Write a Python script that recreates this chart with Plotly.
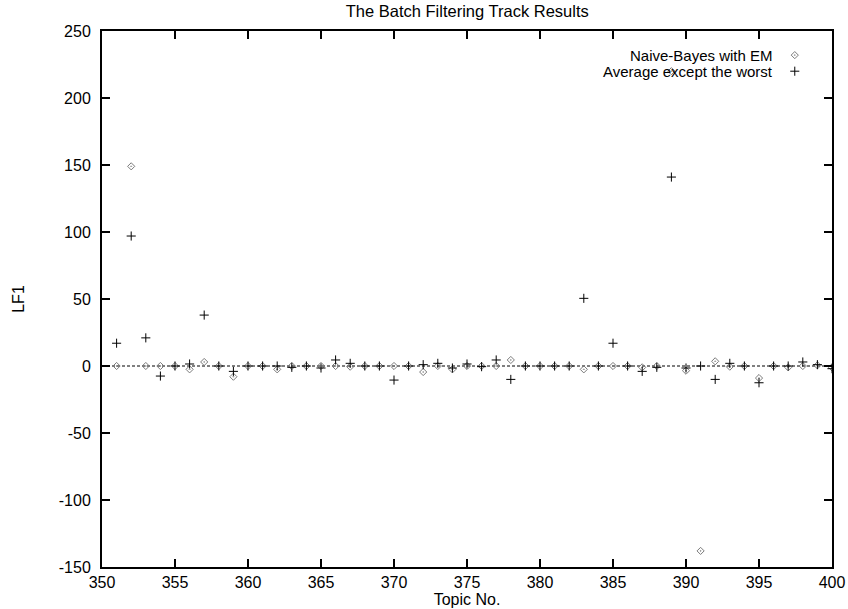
import plotly.graph_objects as go

topics = list(range(351, 401))
naive_bayes_em = [
    0, 149, 0, 0, 0, -2.5, 3, 0, -8, 0,
    0, -2.5, 0, 0, 0, 0, -0.5, 0, 0, 0,
    0, -4.5, 0, -2.5, 0, 0, 0, 4.5, 0, 0,
    0, 0, -2.5, 0, 0, 0, -1, 0, 220, -3.5,
    -138, 3.5, -0.5, 0, -9, 0, -1, 0, 0.5, -1,
]
avg_except_worst = [
    17, 97, 21, -7.5, 0, 1.5, 38, 0, -4, 0,
    0, 0, -1, 0, -1.5, 4.5, 2, 0, 0, -10.5,
    0, 1, 2, -1.5, 1.5, -0.5, 4.5, -10, 0, 0,
    0, 0, 50.5, 0, 17, 0, -4, -1, 141, -1.5,
    0, -10, 2, 0, -12.5, 0, 0, 3, 1, -2,
]
series_names = ["Naive-Bayes with EM", "Average except the worst"]
x_ticks = list(range(350, 401, 5))
y_ticks = list(range(-150, 251, 50))

FONT = "Liberation Sans, Arial, Helvetica, sans-serif"
NB_STYLE = dict(symbol="diamond-open-dot", size=5.5, color="#7a7a7a", line=dict(width=1, color="#7a7a7a"))
AVG_STYLE = dict(symbol="cross-thin-open", size=6.5, color="black", line=dict(width=1, color="black"))

fig = go.Figure()
fig.add_trace(go.Scatter(x=topics, y=naive_bayes_em, mode="markers", name=series_names[0],
                         marker=NB_STYLE, showlegend=False))
fig.add_trace(go.Scatter(x=topics, y=avg_except_worst, mode="markers", name=series_names[1],
                         marker=AVG_STYLE, showlegend=False))

# legend samples (gnuplot-style: text right-aligned, sample on the right)
key_rows_y = [0.955, 0.925]
key_sample_x = 0.949
key_text_x = 0.922
for name, style, ky in zip(series_names, [NB_STYLE, AVG_STYLE], key_rows_y):
    fig.add_trace(go.Scatter(x=[key_sample_x], y=[ky], mode="markers", marker=style,
                             xaxis="x2", yaxis="y2", showlegend=False, hoverinfo="skip"))
    fig.add_annotation(x=key_text_x, y=ky, xref="x2", yref="y2", text=name, showarrow=False,
                       xanchor="right", yanchor="middle", font=dict(family=FONT, size=15, color="black"))

# dotted zero axis
fig.add_shape(type="line", xref="x domain", yref="y", x0=0, x1=1, y0=0, y1=0,
              line=dict(color="black", width=1, dash="3px,2px"), layer="below")

axis_common = dict(showgrid=False, zeroline=False, showline=True, linewidth=2, linecolor="black",
                   ticks="inside", ticklen=8, tickwidth=1.5, tickcolor="black", mirror="allticks",
                   tickfont=dict(family=FONT, size=16, color="black"))

fig.update_layout(
    width=848, height=609,
    margin=dict(l=102, r=16, t=31, b=42),
    paper_bgcolor="white", plot_bgcolor="white",
    font=dict(family=FONT, size=16, color="black"),
    title=dict(text="The Batch Filtering Track Results", x=0.551, xanchor="center",
               y=0.981, yanchor="middle", font=dict(family=FONT, size=16.5, color="black")),
    xaxis=dict(range=[350, 400], tickvals=x_ticks, ticktext=[str(v) for v in x_ticks],
               title=dict(text="Topic No.", standoff=1, font=dict(family=FONT, size=16)),
               automargin=False, **axis_common),
    yaxis=dict(range=[-150, 250], tickvals=y_ticks, ticktext=[str(v) for v in y_ticks],
               ticklabelstandoff=6,
               title=dict(text="LF1", standoff=30, font=dict(family=FONT, size=16)),
               automargin=False, **axis_common),
    xaxis2=dict(range=[0, 1], overlaying="x", visible=False, fixedrange=True),
    yaxis2=dict(range=[0, 1], overlaying="y", visible=False, fixedrange=True),
)

fig.write_html("out.html", config={"displayModeBar": False, "staticPlot": True},
               post_script="document.body.style.margin='0px';")
